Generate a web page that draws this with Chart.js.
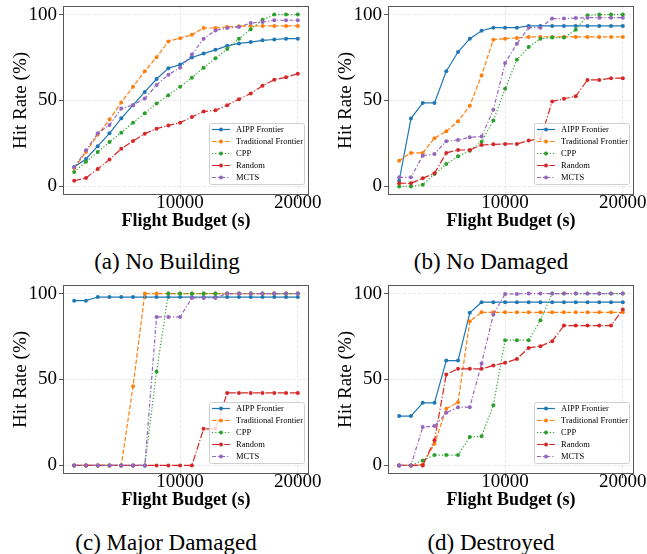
<!DOCTYPE html>
<html>
<head>
<meta charset="utf-8">
<script src="https://cdn.jsdelivr.net/npm/chart.js@4.4.0/dist/chart.umd.min.js"></script>
<style>
  html, body { margin: 0; padding: 0; background: #fff; overflow: hidden; }
  #fig { position: relative; width: 647px; height: 554px; overflow: hidden; }
  canvas { position: absolute; }
  .cap { position: absolute; width: 320px; text-align: center; font-family: 'Liberation Serif', serif; font-size: 23px; line-height: 23px; color: #000; }
</style>
</head>
<body>
<div id="fig">
  <canvas id="c0" width="325" height="235" style="left:0px;top:0px"></canvas>
  <canvas id="c1" width="325" height="235" style="left:325px;top:0px"></canvas>
  <canvas id="c2" width="325" height="235" style="left:0px;top:279px"></canvas>
  <canvas id="c3" width="325" height="235" style="left:325px;top:279px"></canvas>
  <div class="cap" style="left:7px;top:250px">(a) No Building</div>
  <div class="cap" style="left:331px;top:250px">(b) No Damaged</div>
  <div class="cap" style="left:6px;top:531px">(c) Major Damaged</div>
  <div class="cap" style="left:331px;top:531px">(d) Destroyed</div>
</div>
<script>
// flight budgets (s)
const budgets = [1000, 2000, 3000, 4000, 5000, 6000, 7000, 8000, 9000, 10000,
                 11000, 12000, 13000, 14000, 15000, 16000, 17000, 18000, 19000, 20000];
const xTicks = [10000, 20000];
const yTicks = [0, 50, 100];

const seriesNames = ['AIPP Frontier', 'Traditional Frontier', 'CPP', 'Random', 'MCTS'];

// (a) No Building
const aAIPP   = [11.3, 16, 23.4, 30.9, 39.6, 47.3, 55, 62.5, 68.8, 70.9, 75, 77.3, 79.5, 81.8, 83.2, 84, 85, 85.5, 86, 86];
const aTrad   = [10.7, 20, 30, 39, 48.8, 58, 67, 75.2, 84.4, 86.3, 88.3, 92.2, 92.2, 92.8, 93.2, 93.4, 93.4, 93.4, 93.4, 93.4];
const aCPP    = [8.4, 14.3, 20, 25.8, 31.3, 37.1, 42.6, 48.2, 53.1, 58, 63.3, 69, 74.6, 80, 86, 91.4, 97, 100, 100, 100];
const aRandom = [3.3, 4.9, 10.2, 15.6, 21.9, 26.4, 30.7, 33.6, 35.5, 37.1, 40.4, 43.6, 44.3, 47.3, 50.8, 54.1, 58.6, 62.1, 63.5, 65.6];
const aMCTS   = [11.1, 21, 30.9, 35.7, 45.3, 47.3, 51.2, 59, 65, 69, 76.8, 86, 90.8, 92.2, 92.8, 95.1, 95.7, 96.7, 96.7, 96.7];

// (b) No Damaged
const bAIPP   = [3.3, 39.5, 48.6, 48.6, 67, 78.2, 86, 90.6, 92.4, 92.4, 92.4, 93.4, 93.4, 93.4, 93.4, 93.4, 93.4, 93.4, 93.4, 93.4];
const bTrad   = [15, 19.5, 19.5, 28, 32.1, 37.9, 47, 64.6, 85.4, 86, 86.4, 87, 87, 87, 87, 87, 87, 87, 87, 87];
const bCPP    = [0, 0, 1, 7.2, 13, 17.5, 20.8, 26, 38.3, 56.8, 73.7, 81.1, 86, 86.6, 86.6, 91.2, 99.6, 100, 100, 100];
const bRandom = [1.9, 1.8, 4.7, 7.6, 19.5, 21.2, 21.2, 24.1, 24.5, 24.7, 24.7, 26.7, 27.6, 49.4, 51, 52.5, 62, 62, 63, 63];
const bMCTS   = [5.3, 5.3, 17.9, 18.9, 26.3, 27, 28.6, 29, 44.6, 71.8, 83, 92.4, 92.4, 97.7, 97.7, 98, 98.2, 98.2, 98.2, 98.2];

// (c) Major Damaged
const cAIPP   = [95.9, 95.9, 98, 98, 98, 98, 98, 98, 98, 98, 98, 98, 98, 98, 98, 98, 98, 98, 98, 98];
const cTrad   = [0, 0, 0, 0, 0, 46, 100, 100, 100, 100, 100, 100, 100, 100, 100, 100, 100, 100, 100, 100];
const cCPP    = [0, 0, 0, 0, 0, 0, 0, 54.5, 100, 100, 100, 100, 100, 100, 100, 100, 100, 100, 100, 100];
const cRandom = [0, 0, 0, 0, 0, 0, 0, 0, 0, 0, 0, 21.3, 21.3, 42.2, 42.2, 42.2, 42.2, 42.2, 42.2, 42.2];
const cMCTS   = [0, 0, 0, 0, 0, 0, 0, 86.4, 86.4, 86.4, 97.5, 97.5, 97.5, 100, 100, 100, 100, 100, 100, 100];

// (d) Destroyed
const dAIPP   = [28.7, 28.7, 36.4, 36.4, 61, 61, 88.8, 95, 95, 95, 95, 95, 95, 95, 95, 95, 95, 95, 95, 95];
const dTrad   = [0, 0, 0.6, 12.6, 33, 36.8, 83.9, 89.1, 89.1, 89.1, 89.1, 89.1, 89.1, 89.1, 89.1, 89.1, 89.1, 89.1, 89.1, 89.1];
const dCPP    = [0, 0, 2.9, 6, 6, 6, 16.5, 17, 35, 72.9, 72.9, 72.9, 84.5, 100, 100, 100, 100, 100, 100, 100];
const dRandom = [0, 0, 0, 14.7, 52.9, 56.2, 56.2, 56.2, 58.1, 59.7, 62, 68.4, 69.4, 72.3, 81.4, 81.4, 81.4, 81.4, 81.4, 90.7];
const dMCTS   = [0, 0, 22.3, 22.9, 30.6, 33.9, 33.9, 59.3, 87.8, 99.8, 99.8, 100, 100, 100, 100, 100, 100, 100, 100, 100];

const colors = ['#1f77b4', '#ff7f0e', '#2ca02c', '#d62728', '#9467bd'];
const dashes = [[], [4.5, 2], [1.2, 2], [7, 2, 1.2, 2], [4, 2, 1.2, 2]];

const panels = [
  ['c0', [aAIPP, aTrad, aCPP, aRandom, aMCTS]],
  ['c1', [bAIPP, bTrad, bCPP, bRandom, bMCTS]],
  ['c2', [cAIPP, cTrad, cCPP, cRandom, cMCTS]],
  ['c3', [dAIPP, dTrad, dCPP, dRandom, dMCTS]]
];

const serif = 'Liberation Serif';

// axes box + matplotlib-style legend in the lower right
const frameAndLegend = {
  id: 'frameAndLegend',
  afterDraw(chart) {
    const { ctx, chartArea: a } = chart;
    ctx.save();
    ctx.strokeStyle = '#555';
    ctx.lineWidth = 1;
    ctx.strokeRect(a.left + 0.5, a.top + 0.5, a.right - a.left - 1, a.bottom - a.top - 1);

    const w = 95, h = 61;
    const x0 = a.right - 5 - w, y0 = a.bottom - 11 - h;
    ctx.beginPath();
    ctx.roundRect(x0 + 0.5, y0 + 0.5, w, h, 2);
    ctx.fillStyle = 'rgba(255,255,255,0.8)';
    ctx.fill();
    ctx.strokeStyle = '#d0d0d0';
    ctx.stroke();

    chart.data.datasets.forEach((ds, i) => {
      const y = y0 + 6.5 + i * 12;
      ctx.strokeStyle = ds.borderColor;
      ctx.lineWidth = 1.2;
      ctx.setLineDash(ds.borderDash);
      ctx.beginPath();
      ctx.moveTo(x0 + 3, y);
      ctx.lineTo(x0 + 21, y);
      ctx.stroke();
      ctx.setLineDash([]);
      ctx.fillStyle = ds.borderColor;
      ctx.beginPath();
      ctx.arc(x0 + 12, y, 2, 0, Math.PI * 2);
      ctx.fill();
      ctx.fillStyle = '#000';
      ctx.font = '8.5px "' + serif + '"';
      ctx.textBaseline = 'middle';
      ctx.fillText(ds.label, x0 + 27, y);
    });
    ctx.restore();
  }
};

const gridOpts = {
  color: 'rgba(0,0,0,0.12)',
  lineWidth: 0.8,
  tickColor: '#555',
  tickLength: 4,
  tickWidth: 1,
  tickBorderDash: []
};

panels.forEach(([id, series]) => {
  new Chart(document.getElementById(id), {
    type: 'line',
    data: {
      datasets: series.map((vals, i) => ({
        label: seriesNames[i],
        data: budgets.map((b, k) => ({ x: b, y: vals[k] })),
        borderColor: colors[i],
        backgroundColor: colors[i],
        borderDash: dashes[i],
        borderWidth: 1.2,
        pointRadius: 2,
        pointBorderWidth: 0,
        pointHoverRadius: 0,
        tension: 0,
        order: 4 - i
      }))
    },
    options: {
      responsive: false,
      animation: false,
      events: [],
      layout: { padding: { left: 0, right: 16, top: 6, bottom: 0 } },
      plugins: { legend: { display: false }, tooltip: { enabled: false } },
      scales: {
        x: {
          type: 'linear',
          min: 50,
          max: 20950,
          afterBuildTicks: s => { s.ticks = xTicks.map(v => ({ value: v })); },
          afterFit: s => { s.height = 40; s.paddingLeft = 0; s.paddingRight = 0; },
          grid: gridOpts,
          border: { display: false, dash: [3, 2] },
          ticks: {
            autoSkip: false, maxRotation: 0, padding: -7, color: '#000',
            font: { family: serif, size: 19 },
            callback: v => String(v)
          },
          title: {
            display: true, text: 'Flight Budget (s)', color: '#000',
            font: { family: serif, size: 18, weight: 'bold' },
            padding: { top: 0, bottom: 3 }
          }
        },
        y: {
          min: -5,
          max: 105,
          afterBuildTicks: s => { s.ticks = yTicks.map(v => ({ value: v })); },
          afterFit: s => { s.width = 63; s.paddingTop = 0; s.paddingBottom = 0; },
          grid: gridOpts,
          border: { display: false, dash: [3, 2] },
          ticks: {
            padding: 2, color: '#000',
            font: { family: serif, size: 19 }
          },
          title: {
            display: true, text: 'Hit Rate (%)', color: '#000',
            font: { family: serif, size: 19 },
            padding: { top: 10, bottom: 0 }
          }
        }
      }
    },
    plugins: [frameAndLegend]
  });
});
</script>
</body>
</html>
